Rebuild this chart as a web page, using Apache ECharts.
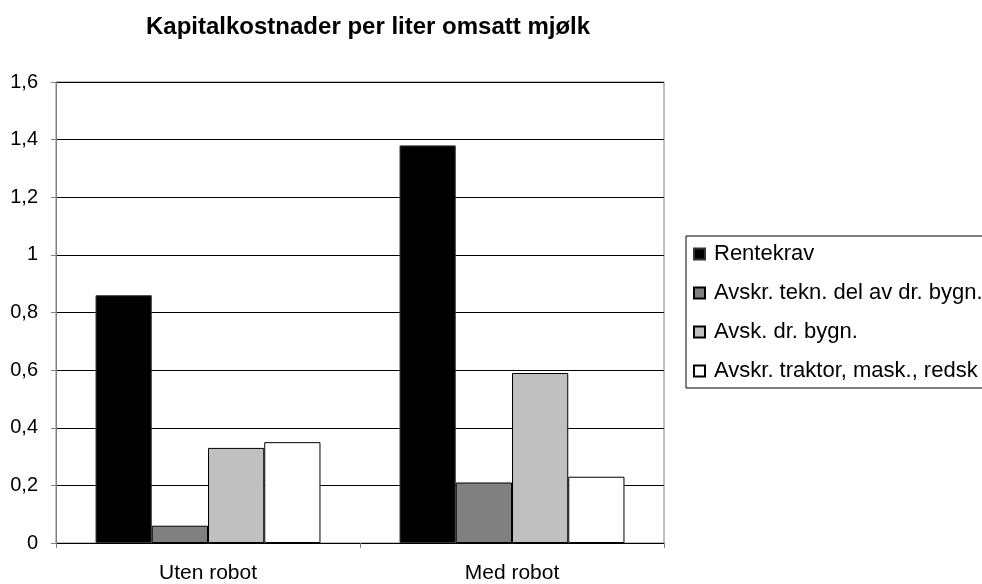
<!DOCTYPE html>
<html lang="nb">

<head>
  <meta charset="UTF-8">
  <meta name="viewport" content="width=device-width, initial-scale=1.0">
  <script src="https://cdn.jsdelivr.net/npm/echarts@6/dist/echarts.min.js"></script>
  <style>
    html, body { margin: 0; padding: 0; background: #fff; }
    #chart { width: 982px; height: 584px; }
  </style>
</head>

<body>
  <div id="chart"></div>
  <script>
    // data
    const categories = ['Uten robot', 'Med robot'];
    const seriesNames = [
      'Rentekrav',
      'Avskr. tekn. del av dr. bygn.',
      'Avsk. dr. bygn.',
      'Avskr. traktor, mask., redsk'
    ];
    const rentekrav = [0.86, 1.38];
    const avskrTekn = [0.06, 0.21];
    const avskDrBygn = [0.33, 0.59];
    const avskrTraktor = [0.35, 0.23];
    const yTickLabels = ['0', '0,2', '0,4', '0,6', '0,8', '1', '1,2', '1,4', '1,6'];

    const font = 'Liberation Sans, Arial, sans-serif';
    const fills = ['#000000', '#808080', '#c0c0c0', '#ffffff'];
    const values = [rentekrav, avskrTekn, avskDrBygn, avskrTraktor];

    var chart = echarts.init(document.getElementById('chart'), null, { renderer: 'canvas' });

    let option = {
      animation: false,
      backgroundColor: '#fff',
      title: {
        text: 'Kapitalkostnader per liter omsatt mjølk',
        left: 146,
        top: 15,
        padding: 0,
        textStyle: {
          color: '#000',
          fontFamily: font,
          fontWeight: 'bold',
          fontSize: 24
        }
      },
      grid: {
        left: 56,
        right: 318,
        top: 82,
        bottom: 40,
        show: true,
        borderColor: '#808080',
        borderWidth: 1
      },
      legend: {
        orient: 'vertical',
        left: 686,
        top: 236,
        padding: [7, 40, 6, 7],
        itemGap: 17,
        itemWidth: 11,
        itemHeight: 11,
        borderColor: '#000',
        borderWidth: 1,
        backgroundColor: '#fff',
        icon: 'rect',
        textStyle: {
          color: '#000',
          fontFamily: font,
          fontSize: 22,
          lineHeight: 20,
          padding: [0, 0, 0, 4]
        },
        data: seriesNames
      },
      xAxis: {
        type: 'category',
        data: categories,
        axisLine: { lineStyle: { color: '#000', width: 1 } },
        axisTick: { show: true, length: 5, lineStyle: { color: '#808080' } },
        axisLabel: {
          color: '#000',
          fontFamily: font,
          fontSize: 21,
          margin: 20
        }
      },
      yAxis: {
        type: 'value',
        min: 0,
        max: 1.6,
        interval: 0.2,
        axisLine: { show: true, lineStyle: { color: '#808080' } },
        axisTick: { show: true, length: 5, lineStyle: { color: '#808080' } },
        splitLine: { lineStyle: { color: '#000', width: 1 } },
        axisLabel: {
          color: '#000',
          fontFamily: font,
          fontSize: 20,
          margin: 18,
          formatter: (v, i) => yTickLabels[i]
        }
      },
      series: seriesNames.map((name, i) => ({
        name: name,
        type: 'bar',
        data: values[i],
        barGap: '0%',
        barCategoryGap: '26%',
        itemStyle: {
          color: fills[i],
          borderColor: i === 0 ? '#333' : '#000',
          borderWidth: 1
        }
      }))
    };
    chart.setOption(option);
  </script>
</body>

</html>
